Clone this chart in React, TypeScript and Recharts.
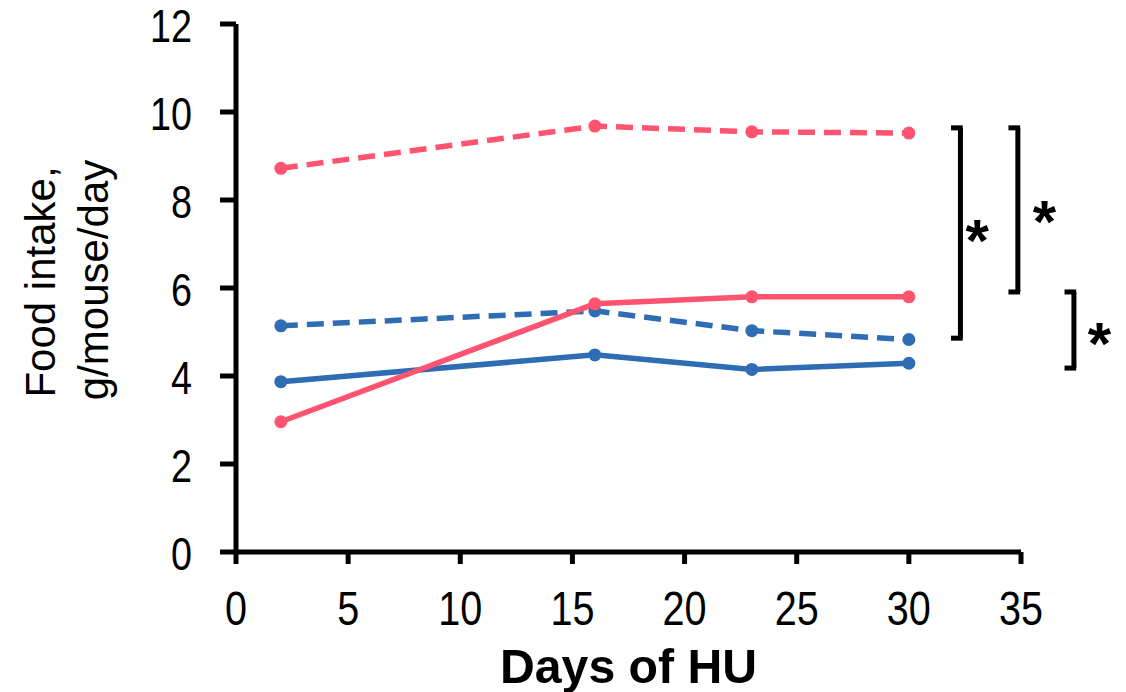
import React from "react";
import { LineChart, Line, XAxis, YAxis, ReferenceLine, ReferenceDot } from "recharts";

const days = [2, 16, 23, 30];
const redDashed = [8.72, 9.68, 9.55, 9.52];
const redSolid = [2.96, 5.64, 5.8, 5.8];
const blueDashed = [5.14, 5.48, 5.03, 4.83];
const blueSolid = [3.87, 4.48, 4.15, 4.29];
const xTicks = [0, 5, 10, 15, 20, 25, 30, 35];
const yTicks = [0, 2, 4, 6, 8, 10, 12];

// significance brackets: [x, yTop, yBottom]
const brackets: [number, number, number][] = [
  [32.3, 9.64, 4.86],
  [34.86, 9.64, 5.91],
  [37.36, 5.91, 4.18],
];
// stars: [x, y]
const stars: [number, number][] = [
  [33.05, 7.32],
  [36.05, 7.75],
  [38.5, 4.98],
];

const RED = "#FF5470";
const BLUE = "#2E6DB4";

const data = days.map((d, i) => ({
  day: d,
  redDashed: redDashed[i],
  redSolid: redSolid[i],
  blueDashed: blueDashed[i],
  blueSolid: blueSolid[i],
}));

const NARROW = "'Liberation Sans Narrow', 'Arial Narrow', 'Liberation Sans', Arial, sans-serif";
const SANS = "'Liberation Sans', Arial, sans-serif";

const YTick = (props: any) => {
  const { x, y, payload } = props;
  const s = String(payload.value);
  return (
    <text x={x} y={y + 18} textAnchor="end" fontSize={46} fontFamily={NARROW} fill="#000"
      textLength={21 * s.length} lengthAdjust="spacingAndGlyphs">
      {s}
    </text>
  );
};

const XTick = (props: any) => {
  const { x, y, payload } = props;
  const s = String(payload.value);
  return (
    <text x={x} y={y + 58} textAnchor="middle" fontSize={48} fontFamily={NARROW} fill="#000"
      textLength={22 * s.length} lengthAdjust="spacingAndGlyphs">
      {s}
    </text>
  );
};

const STAR_FS = 60;
const Star = (props: any) => {
  const { cx, cy } = props;
  return (
    <text x={cx} y={cy + 0.52 * STAR_FS} textAnchor="middle" fontSize={STAR_FS} fontWeight="bold"
      fontFamily={SANS} fill="#000">
      *
    </text>
  );
};

const dotStyle = (c: string) => ({ r: 6.5, fill: c, stroke: c, strokeWidth: 0 });

export default function App() {
  return (
    <div style={{ position: "absolute", left: 0, top: 0, width: 1126, height: 692, background: "#fff" }}>
      <LineChart width={1126} height={692} data={data} margin={{ top: 24, right: 105, bottom: 0, left: 0 }}>
        <XAxis
          type="number"
          dataKey="day"
          domain={[0, 35]}
          ticks={xTicks}
          interval={0}
          height={140}
          stroke="#000"
          strokeWidth={5}
          axisLine={{ stroke: "#000", strokeWidth: 5 }}
          tickLine={{ stroke: "#000", strokeWidth: 5 }}
          tickSize={12}
          tickMargin={3}
          tick={<XTick />}
          label={{
            content: (p: any) => {
              const vb = p.viewBox || { x: 236, width: 785 };
              return (
                <text x={vb.x + vb.width / 2} y={683} textAnchor="middle" fontSize={48} fontWeight="bold"
                  fontFamily={NARROW} fill="#000" textLength={257} lengthAdjust="spacingAndGlyphs">
                  Days of HU
                </text>
              );
            },
          }}
        />
        <YAxis
          type="number"
          domain={[0, 12]}
          ticks={yTicks}
          interval={0}
          width={236}
          stroke="#000"
          strokeWidth={5}
          axisLine={{ stroke: "#000", strokeWidth: 5 }}
          tickLine={{ stroke: "#000", strokeWidth: 5 }}
          tickSize={16}
          tickMargin={28}
          tick={<YTick />}
          label={{
            content: () => (
              <g>
                <text x={55} y={282} transform="rotate(-90 55 282)" textAnchor="middle" fontSize={42}
                  fontFamily={SANS} fill="#000">
                  Food intake,
                </text>
                <text x={108} y={280} transform="rotate(-90 108 280)" textAnchor="middle" fontSize={42}
                  fontFamily={SANS} fill="#000">
                  g/mouse/day
                </text>
              </g>
            ),
          }}
        />
        <Line dataKey="redDashed" stroke={RED} strokeWidth={5.5} strokeDasharray="17 9" dot={dotStyle(RED)} isAnimationActive={false} />
        <Line dataKey="blueDashed" stroke={BLUE} strokeWidth={5.5} strokeDasharray="17 9" dot={dotStyle(BLUE)} isAnimationActive={false} />
        <Line dataKey="blueSolid" stroke={BLUE} strokeWidth={5.5} dot={dotStyle(BLUE)} isAnimationActive={false} />
        <Line dataKey="redSolid" stroke={RED} strokeWidth={5.5} dot={dotStyle(RED)} isAnimationActive={false} />
        {brackets.map(([bx, yt, yb], i) => (
          <React.Fragment key={"b" + i}>
            <ReferenceLine segment={[{ x: bx, y: yt }, { x: bx, y: yb }]} stroke="#000" strokeWidth={5} ifOverflow="visible" />
            <ReferenceLine segment={[{ x: bx - 0.42, y: yt }, { x: bx + 0.1, y: yt }]} stroke="#000" strokeWidth={5} ifOverflow="visible" />
            <ReferenceLine segment={[{ x: bx - 0.42, y: yb }, { x: bx + 0.1, y: yb }]} stroke="#000" strokeWidth={5} ifOverflow="visible" />
          </React.Fragment>
        ))}
        {stars.map(([sx, sy], i) => (
          <ReferenceDot key={"s" + i} x={sx} y={sy} r={0} ifOverflow="visible" shape={<Star />} />
        ))}
      </LineChart>
    </div>
  );
}
